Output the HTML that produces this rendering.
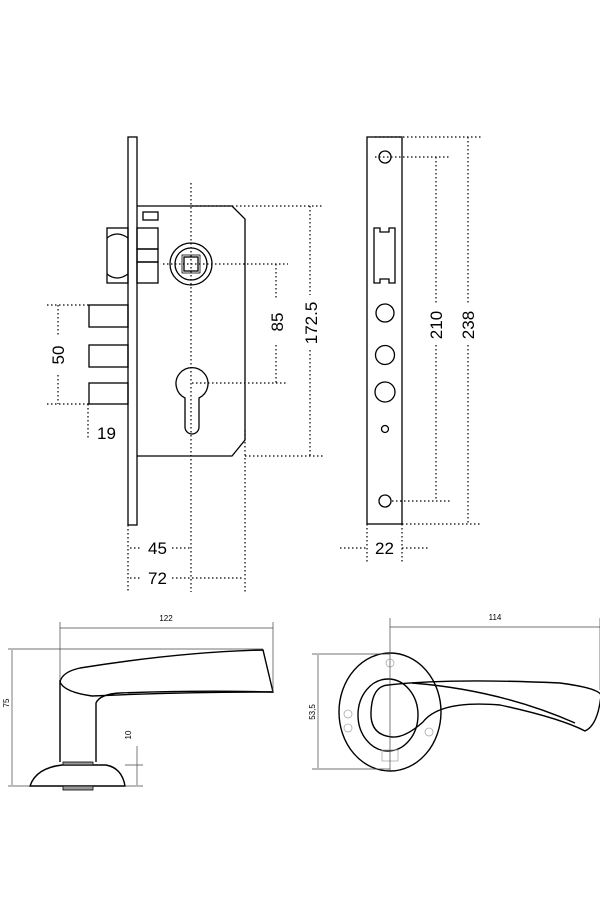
<!DOCTYPE html>
<html><head><meta charset="utf-8"><style>html,body{margin:0;padding:0;background:#fff}svg{display:block}</style></head>
<body>
<svg width="600" height="900" viewBox="0 0 600 900" xmlns="http://www.w3.org/2000/svg" font-family="'Liberation Sans', sans-serif">
<g fill="none" stroke="#000" stroke-width="1.3">
<!-- left lock -->
<rect x="128" y="137" width="9" height="388"/>
<path d="M137 206 H232 L245 219 V440 L232 456 H137"/>
<rect x="143" y="212" width="15" height="8"/>
<rect x="107" y="228" width="21" height="55"/>
<path d="M107 238 Q117 230 128 238 M107 274 Q117 282 128 274"/>
<rect x="137" y="228" width="21" height="21"/><rect x="137" y="249" width="21" height="13"/><rect x="137" y="262" width="21" height="21"/>
<circle cx="191" cy="264" r="21"/><circle cx="191" cy="264" r="16"/>
<rect x="184" y="257" width="14" height="14"/><rect x="182" y="255" width="18" height="18" stroke-width="0.8"/>
<path d="M185 398 A16 16 0 1 1 199 398 V427 A7 7 0 0 1 185 427 Z"/>
<rect x="89" y="305" width="39" height="22"/><rect x="89" y="345" width="39" height="22"/><rect x="89" y="383" width="39" height="21"/>
<!-- faceplate -->
<rect x="367" y="137" width="35" height="387"/>
<circle cx="385" cy="157" r="6"/><circle cx="385" cy="501" r="6"/>
<path d="M374 228 H380 V232 H389 V228 H395 V283 H389 V279 H380 V283 H374 Z"/>
<circle cx="385" cy="313" r="9"/><circle cx="385" cy="355" r="9.5"/><circle cx="385" cy="392" r="10"/><circle cx="385" cy="429" r="3.5"/>
</g>
<g fill="none" stroke="#000" stroke-width="1.2" stroke-dasharray="1.5 2.5">
<line x1="191" y1="183" x2="191" y2="592"/>
<line x1="163" y1="264" x2="288" y2="264"/><line x1="192" y1="383" x2="288" y2="383"/>
<line x1="276" y1="264" x2="276" y2="300"/><line x1="276" y1="345" x2="276" y2="383"/>
<line x1="192" y1="206" x2="323" y2="206"/><line x1="245" y1="456" x2="323" y2="456"/>
<line x1="310" y1="206" x2="310" y2="295"/><line x1="310" y1="350" x2="310" y2="456"/>
<line x1="245" y1="430" x2="245" y2="592"/><line x1="128" y1="525" x2="128" y2="592"/>
<line x1="130" y1="548" x2="140" y2="548"/><line x1="172" y1="548" x2="190" y2="548"/>
<line x1="130" y1="578" x2="140" y2="578"/><line x1="172" y1="578" x2="244" y2="578"/>
<line x1="47" y1="305" x2="89" y2="305"/><line x1="47" y1="404" x2="89" y2="404"/>
<line x1="58" y1="305" x2="58" y2="335"/><line x1="58" y1="375" x2="58" y2="404"/>
<line x1="88" y1="404" x2="88" y2="440"/>
<!-- faceplate dims -->
<line x1="375" y1="137" x2="482" y2="137"/><line x1="402" y1="524" x2="482" y2="524"/>
<line x1="375" y1="157" x2="450" y2="157"/><line x1="392" y1="501" x2="450" y2="501"/>
<line x1="436" y1="157" x2="436" y2="305"/><line x1="436" y1="345" x2="436" y2="501"/>
<line x1="468" y1="137" x2="468" y2="305"/><line x1="468" y1="345" x2="468" y2="524"/>
<line x1="367" y1="524" x2="367" y2="562"/><line x1="402" y1="524" x2="402" y2="562"/>
<line x1="340" y1="548" x2="367" y2="548"/><line x1="402" y1="548" x2="430" y2="548"/>
</g>
<g font-size="17" fill="#000">
<text x="148" y="554" >45</text><text x="148" y="584">72</text>
<text x="97" y="439">19</text><text x="375" y="554">22</text>
<text transform="translate(64 355) rotate(-90)" text-anchor="middle">50</text>
<text transform="translate(283 322) rotate(-90)" text-anchor="middle">85</text>
<text transform="translate(317 323) rotate(-90)" text-anchor="middle">172.5</text>
<text transform="translate(442 325) rotate(-90)" text-anchor="middle">210</text>
<text transform="translate(474 325) rotate(-90)" text-anchor="middle">238</text>
</g>
<!-- handles -->
<g fill="none" stroke="#000" stroke-width="1.4">
<path d="M60 682 Q62 672 80 668 Q180 652 263 650 L273 692 Q200 690 120 693 Q100 694 96 703 V762"/>
<path d="M60 682 Q64 692 92 696 Q180 692 273 692"/>
<line x1="60" y1="680" x2="60" y2="762"/>
<path d="M30 786 Q36 768 62 765 H106 Q122 768 125 786 Z"/>
<rect x="63" y="762" width="30" height="3" fill="#999" stroke-width="0.8"/>
<rect x="63" y="786" width="30" height="4" fill="#999" stroke-width="0.8"/>
<ellipse cx="390" cy="712" rx="51" ry="59"/>
<ellipse cx="388" cy="715" rx="30" ry="36"/>
<path d="M388 685 Q450 678 560 683 Q598 688 601 695 Q598 725 585 731 Q560 718 500 705 Q440 700 423 722 Q405 738 392 737 Q370 735 371 712 Q372 686 388 685 Z"/>
<path d="M412 683 Q500 690 575 723"/>
<rect x="382" y="750" width="16" height="11" stroke="#aaa" stroke-width="0.8"/>
</g>
<g fill="none" stroke="#aaa" stroke-width="0.8">
<circle cx="390" cy="663" r="4"/><circle cx="348" cy="714" r="4"/><circle cx="348" cy="728" r="4"/><circle cx="429" cy="732" r="4"/>
</g>
<g fill="none" stroke="#444" stroke-width="0.7">
<line x1="60" y1="622" x2="60" y2="680"/><line x1="273" y1="622" x2="273" y2="692"/>
<line x1="60" y1="628" x2="273" y2="628"/>
<line x1="8" y1="649" x2="263" y2="649"/><line x1="8" y1="786" x2="30" y2="786"/>
<line x1="12" y1="650" x2="12" y2="785"/>
<line x1="125" y1="765" x2="143" y2="765"/><line x1="125" y1="786" x2="143" y2="786"/>
<line x1="137" y1="746" x2="137" y2="785"/>
<line x1="390" y1="618" x2="390" y2="770"/><line x1="600" y1="618" x2="600" y2="690"/>
<line x1="390" y1="627" x2="600" y2="627"/>
<line x1="312" y1="654" x2="390" y2="654"/><line x1="312" y1="769" x2="390" y2="769"/>
<line x1="318" y1="655" x2="318" y2="768"/>
</g>
<g font-size="8" fill="#000">
<text x="166" y="621" text-anchor="middle">122</text>
<text x="495" y="620" text-anchor="middle">114</text>
<text transform="translate(9 703) rotate(-90)" text-anchor="middle">75</text>
<text transform="translate(131 735) rotate(-90)" text-anchor="middle">10</text>
<text transform="translate(315 712) rotate(-90)" text-anchor="middle">53,5</text>
</g>
</svg>
</body></html>
